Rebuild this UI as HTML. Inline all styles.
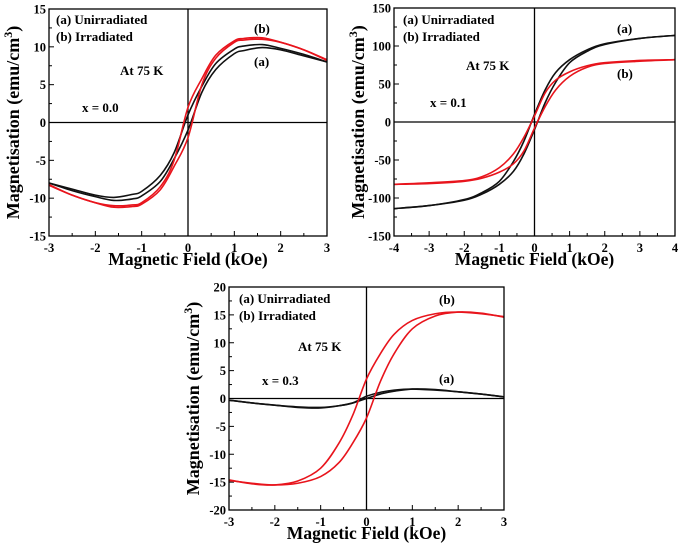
<!DOCTYPE html>
<html><head><meta charset="utf-8"><style>
html,body{margin:0;padding:0;background:#fff}
svg{display:block;font-family:"Liberation Serif",serif;font-weight:bold}
</style></head><body>
<svg id="c" width="685" height="551" viewBox="0 0 685 551"></svg>
<script>
// Panel 1 (x = 0.0)
const p1X = [-3,-2.5,-2,-1.6,-1.2,-1,-0.6,-0.3,0,0.3,0.6,1,1.2,1.6,2,2.5,3];
const p1BlackLow = [-8,-9,-9.8,-10.3,-10.1,-9.7,-7.8,-4.8,-1,4,7,9.1,9.5,9.9,9.6,8.8,8];
const p1BlackUp = [-8,-8.8,-9.6,-9.9,-9.5,-9.1,-7,-4,1,4.8,7.8,9.7,10.1,10.3,9.8,9,8];
const p1RedLow = [-8.2,-9.6,-10.6,-11.2,-11.1,-10.8,-8.9,-5.8,-2,5,8.5,10.6,10.9,11,10.6,9.6,8.3];
const p1RedUp = [-8.3,-9.6,-10.6,-11,-10.9,-10.6,-8.5,-5,2,5.8,8.9,10.8,11.1,11.2,10.6,9.6,8.2];
const p1XTicks = [-3,-2,-1,0,1,2,3];
const p1YTicks = [-15,-10,-5,0,5,10,15];
// Panel 2 (x = 0.1)
const p2X = [-4,-3,-2,-1.5,-1,-0.6,-0.3,0,0.3,0.6,1,1.5,2,3,4];
const p2BlackLow = [-114,-110,-103,-95,-82,-65,-42,-10,25,52,78,93,102,110,114];
const p2BlackUp = [-114,-110,-102,-93,-78,-52,-25,10,42,65,82,95,103,110,114];
const p2RedLow = [-82,-81,-78,-74,-66,-55,-38,-8,20,42,60,72,77,80,82];
const p2RedUp = [-82,-80,-77,-72,-60,-42,-20,8,38,55,66,74,78,81,82];
const p2XTicks = [-4,-3,-2,-1,0,1,2,3,4];
const p2YTicks = [-150,-100,-50,0,50,100,150];
// Panel 3 (x = 0.3)
const p3X = [-3,-2.5,-2,-1.5,-1,-0.6,-0.3,0,0.3,0.6,1,1.5,2,2.5,3];
const p3RedLow = [-14.7,-15.2,-15.5,-15.2,-14,-11.5,-8,-3.5,3,8,12.5,14.8,15.5,15.3,14.6];
const p3RedUp = [-14.6,-15.3,-15.5,-14.8,-12.5,-8,-3,3.5,8,11.5,14,15.2,15.5,15.2,14.7];
const p3BlackLow = [-0.3,-0.8,-1.2,-1.5,-1.6,-1.3,-0.8,0,0.8,1.3,1.7,1.6,1.2,0.8,0.3];
const p3BlackUp = [-0.3,-0.8,-1.2,-1.6,-1.7,-1.3,-0.8,0.4,1.1,1.5,1.7,1.5,1.2,0.8,0.3];
const p3XTicks = [-3,-2,-1,0,1,2,3];
const p3YTicks = [-20,-15,-10,-5,0,5,10,15,20];

const svg = document.getElementById('c');
const NS = 'http://www.w3.org/2000/svg';
function mk(tag, attrs, parent, text){
  const e = document.createElementNS(NS, tag);
  for (const k in attrs) e.setAttribute(k, attrs[k]);
  if (text !== undefined) e.textContent = text;
  (parent||svg).appendChild(e);
  return e;
}
function spline(pts){
  let d = 'M' + pts[0][0] + ',' + pts[0][1];
  for (let i = 0; i < pts.length - 1; i++){
    const p0 = pts[Math.max(0,i-1)], p1 = pts[i], p2 = pts[i+1], p3 = pts[Math.min(pts.length-1,i+2)];
    const c1x = p1[0] + (p2[0]-p0[0])/6, c1y = p1[1] + (p2[1]-p0[1])/6;
    const c2x = p2[0] - (p3[0]-p1[0])/6, c2y = p2[1] - (p3[1]-p1[1])/6;
    d += ' C' + c1x + ',' + c1y + ' ' + c2x + ',' + c2y + ' ' + p2[0] + ',' + p2[1];
  }
  return d;
}
function panel(cfg){
  const g = mk('g', {});
  
  
  const sx = v => cfg.L + (v - cfg.xt[0]) / (cfg.xt[cfg.xt.length-1] - cfg.xt[0]) * (cfg.R - cfg.L);
  const sy = v => cfg.B - (v - cfg.yt[0]) / (cfg.yt[cfg.yt.length-1] - cfg.yt[0]) * (cfg.B - cfg.T);
  const zx = mk('line', {x1:sx(0), x2:sx(0), y1:cfg.T, y2:cfg.B, stroke:'#000', 'stroke-width':1.3}, g);
  
  
  const zy = mk('line', {x1:cfg.L, x2:cfg.R, y1:sy(0), y2:sy(0), stroke:'#000', 'stroke-width':1.3}, g);
  
  
  for (let i = 0; i < cfg.xt.length; i++){
    const v = cfg.xt[i];
    mk('line', {x1:sx(v), x2:sx(v), y1:cfg.B, y2:cfg.B-5, stroke:'#000', 'stroke-width':1}, g);
    if (i < cfg.xt.length-1){
      const m = (v + cfg.xt[i+1]) / 2;
      mk('line', {x1:sx(m), x2:sx(m), y1:cfg.B, y2:cfg.B-3, stroke:'#000', 'stroke-width':1}, g);
    }
    const t = mk('text', {x:sx(v), y:cfg.B+16, 'text-anchor':'middle', 'font-size':12.5}, g, String(v));
    
    
  }
  for (let i = 0; i < cfg.yt.length; i++){
    const v = cfg.yt[i];
    mk('line', {x1:cfg.L, x2:cfg.L+5, y1:sy(v), y2:sy(v), stroke:'#000', 'stroke-width':1}, g);
    if (i < cfg.yt.length-1){
      const m = (v + cfg.yt[i+1]) / 2;
      mk('line', {x1:cfg.L, x2:cfg.L+3, y1:sy(m), y2:sy(m), stroke:'#000', 'stroke-width':1}, g);
    }
    const t = mk('text', {x:cfg.L-3, y:sy(v)+4.5, 'text-anchor':'end', 'font-size':12.5}, g, String(v));
    
    
  }
  for (const s of cfg.series){
    const pts = cfg.x.map((v,i) => [sx(v), sy(s.y[i])]);
    const p = mk('path', {d:spline(pts), fill:'none', stroke:s.c, 'stroke-width':1.6}, g);
    
    
  }
  const f = mk('rect', {x:cfg.L, y:cfg.T, width:cfg.R-cfg.L, height:cfg.B-cfg.T, fill:'none', stroke:'#000', 'stroke-width':1.3}, g);
  
  
  const xt = mk('text', {x:(cfg.L+cfg.R)/2, y:cfg.B+29, 'text-anchor':'middle', 'font-size':17.5}, g, 'Magnetic Field (kOe)');
  
  
  const yt = mk('text', {transform:'translate(' + (cfg.L-30) + ',' + ((cfg.T+cfg.B)/2) + ') rotate(-90)', 'text-anchor':'middle', 'font-size':18}, g);
  
  
  yt.textContent = 'Magnetisation (emu/cm';
  mk('tspan', {'baseline-shift':'super', 'font-size':12}, yt, '3');
  mk('tspan', {}, yt, ')');
  for (const a of cfg.ann){
    const t = mk('text', {x:a.x, y:a.y, 'font-size':13, 'text-anchor':'start'}, g, a.t);
    
    
  }
}
panel({name:'panel-x-0.0', L:49, R:327, T:9, B:236, x:p1X, xt:p1XTicks, yt:p1YTicks,
  series:[{y:p1BlackLow,c:'#111',n:'unirradiated-ascending'},{y:p1BlackUp,c:'#111',n:'unirradiated-descending'},
          {y:p1RedLow,c:'#e8141c',n:'irradiated-ascending'},{y:p1RedUp,c:'#e8141c',n:'irradiated-descending'}],
  ann:[{x:56,y:24,t:'(a) Unirradiated',n:'legend-a'},{x:56,y:41,t:'(b) Irradiated',n:'legend-b'},
       {x:120,y:75,t:'At 75 K',n:'temperature-label'},{x:82,y:112,t:'x = 0.0',n:'composition-label'},
       {x:254,y:33,t:'(b)',n:'label-b'},{x:254,y:66,t:'(a)',n:'label-a'}]});
panel({name:'panel-x-0.1', L:394, R:675, T:8, B:236, x:p2X, xt:p2XTicks, yt:p2YTicks,
  series:[{y:p2BlackLow,c:'#111',n:'unirradiated-ascending'},{y:p2BlackUp,c:'#111',n:'unirradiated-descending'},
          {y:p2RedLow,c:'#e8141c',n:'irradiated-ascending'},{y:p2RedUp,c:'#e8141c',n:'irradiated-descending'}],
  ann:[{x:403,y:24,t:'(a) Unirradiated',n:'legend-a'},{x:403,y:41,t:'(b) Irradiated',n:'legend-b'},
       {x:466,y:70,t:'At 75 K',n:'temperature-label'},{x:430,y:107,t:'x = 0.1',n:'composition-label'},
       {x:617,y:33,t:'(a)',n:'label-a'},{x:617,y:78,t:'(b)',n:'label-b'}]});
panel({name:'panel-x-0.3', L:229, R:504, T:287, B:510, x:p3X, xt:p3XTicks, yt:p3YTicks,
  series:[{y:p3BlackLow,c:'#111',n:'unirradiated-ascending'},{y:p3BlackUp,c:'#111',n:'unirradiated-descending'},
          {y:p3RedLow,c:'#e8141c',n:'irradiated-ascending'},{y:p3RedUp,c:'#e8141c',n:'irradiated-descending'}],
  ann:[{x:239,y:303,t:'(a) Unirradiated',n:'legend-a'},{x:239,y:320,t:'(b) Irradiated',n:'legend-b'},
       {x:298,y:351,t:'At 75 K',n:'temperature-label'},{x:262,y:385,t:'x = 0.3',n:'composition-label'},
       {x:439,y:304,t:'(b)',n:'label-b'},{x:439,y:383,t:'(a)',n:'label-a'}]});
</script>
</body></html>
